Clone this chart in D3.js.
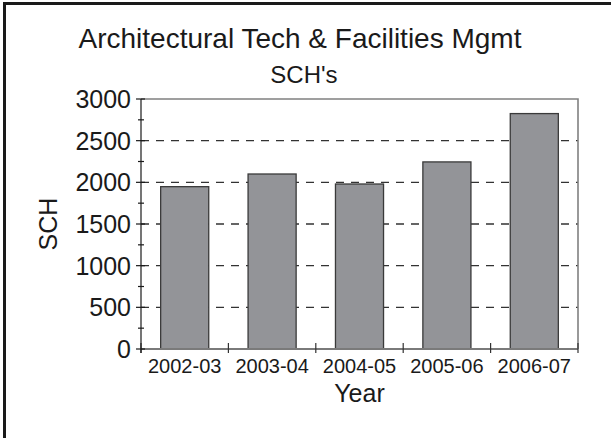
<!DOCTYPE html>
<html>
<head>
<meta charset="utf-8">
<script src="https://cdn.jsdelivr.net/npm/d3@7/dist/d3.min.js"></script>
<style>
  html, body { margin: 0; padding: 0; background: #fff; }
  svg { display: block; font-family: "Liberation Sans", Arial, sans-serif; }
</style>
</head>
<body>
<svg id="chart" width="611" height="438"></svg>
<script>
// Student credit hours per academic year
const years = ["2002-03", "2003-04", "2004-05", "2005-06", "2006-07"];
const sch = [1948, 2100, 1980, 2245, 2825];
const yTicks = [0, 500, 1000, 1500, 2000, 2500, 3000];
const yMinorTicks = [250, 750, 1250, 1750, 2250, 2750];
const titleLines = ["Architectural Tech & Facilities Mgmt", "SCH's"];

const svg = d3.select("#chart");
const plot = { left: 141, right: 578, top: 99, bottom: 349 };

// outer frame (continues past the right and bottom edges)
svg.append("rect")
  .attr("x", 4.5).attr("y", 3.5)
  .attr("width", 700).attr("height", 700)
  .attr("fill", "none").attr("stroke", "#1a1a1a").attr("stroke-width", 3);

const x = d3.scaleBand().domain(years).range([plot.left, plot.right]).paddingInner(0.45).paddingOuter(0.225);
const xEdges = d3.scaleLinear().domain([0, years.length]).range([plot.left, plot.right]);
const y = d3.scaleLinear().domain([0, 3000]).range([plot.bottom, plot.top]);

// dashed gridlines
svg.append("g").selectAll("line")
  .data(yTicks.filter(v => v > 0 && v < 3000))
  .join("line")
  .attr("x1", plot.left).attr("x2", plot.right)
  .attr("y1", d => y(d)).attr("y2", d => y(d))
  .attr("stroke", "#333").attr("stroke-width", 1.3)
  .attr("stroke-dasharray", "8,7");

// plot border: top and right
svg.append("path")
  .attr("d", `M${plot.left},${plot.top}H${plot.right}V${plot.bottom}`)
  .attr("fill", "none").attr("stroke", "#808080").attr("stroke-width", 1.6);

// bars
svg.append("g").selectAll("rect")
  .data(sch)
  .join("rect")
  .attr("x", (d, i) => x(years[i]))
  .attr("y", d => y(d))
  .attr("width", x.bandwidth())
  .attr("height", d => y(0) - y(d))
  .attr("fill", "#939498")
  .attr("stroke", "#3a3a3a").attr("stroke-width", 1.3);

// x axis baseline
svg.append("line")
  .attr("x1", plot.left).attr("x2", plot.right)
  .attr("y1", plot.bottom).attr("y2", plot.bottom)
  .attr("stroke", "#7a7a7a").attr("stroke-width", 2.2);

// x ticks at category boundaries
svg.append("g").selectAll("line")
  .data(d3.range(years.length + 1))
  .join("line")
  .attr("x1", d => xEdges(d)).attr("x2", d => xEdges(d))
  .attr("y1", plot.bottom - 6).attr("y2", plot.bottom + 4)
  .attr("stroke", "#333").attr("stroke-width", 1.2);

// category labels
svg.append("g").selectAll("text")
  .data(years)
  .join("text")
  .attr("x", d => x(d) + x.bandwidth() / 2)
  .attr("y", 373)
  .attr("text-anchor", "middle")
  .attr("font-size", 20)
  .attr("fill", "#1a1a1a")
  .text(d => d);

// y axis line
svg.append("line")
  .attr("x1", plot.left).attr("x2", plot.left)
  .attr("y1", plot.top).attr("y2", plot.bottom + 4)
  .attr("stroke", "#1a1a1a").attr("stroke-width", 1.2);

// y major ticks
svg.append("g").selectAll("line")
  .data(yTicks)
  .join("line")
  .attr("x1", plot.left - 5).attr("x2", plot.left + 4)
  .attr("y1", d => y(d)).attr("y2", d => y(d))
  .attr("stroke", "#1a1a1a").attr("stroke-width", 1.2);

// y minor ticks
svg.append("g").selectAll("line")
  .data(yMinorTicks)
  .join("line")
  .attr("x1", plot.left - 3).attr("x2", plot.left + 3)
  .attr("y1", d => y(d)).attr("y2", d => y(d))
  .attr("stroke", "#1a1a1a").attr("stroke-width", 1.2);

// y tick labels
svg.append("g").selectAll("text")
  .data(yTicks)
  .join("text")
  .attr("x", 131)
  .attr("y", d => y(d))
  .attr("dy", "0.36em")
  .attr("text-anchor", "end")
  .attr("font-size", 25)
  .attr("fill", "#1a1a1a")
  .text(d => d);

// axis titles
svg.append("text")
  .attr("transform", `translate(57,${(plot.top + plot.bottom) / 2}) rotate(-90)`)
  .attr("text-anchor", "middle")
  .attr("font-size", 25)
  .attr("fill", "#1a1a1a")
  .text("SCH");

svg.append("text")
  .attr("x", (plot.left + plot.right) / 2)
  .attr("y", 402)
  .attr("text-anchor", "middle")
  .attr("font-size", 25)
  .attr("fill", "#1a1a1a")
  .text("Year");

// chart title
svg.append("text")
  .attr("x", 300).attr("y", 48)
  .attr("text-anchor", "middle")
  .attr("font-size", 28)
  .attr("fill", "#1a1a1a")
  .text(titleLines[0]);

svg.append("text")
  .attr("x", 304).attr("y", 83)
  .attr("text-anchor", "middle")
  .attr("font-size", 24)
  .attr("fill", "#1a1a1a")
  .text(titleLines[1]);
</script>
</body>
</html>
